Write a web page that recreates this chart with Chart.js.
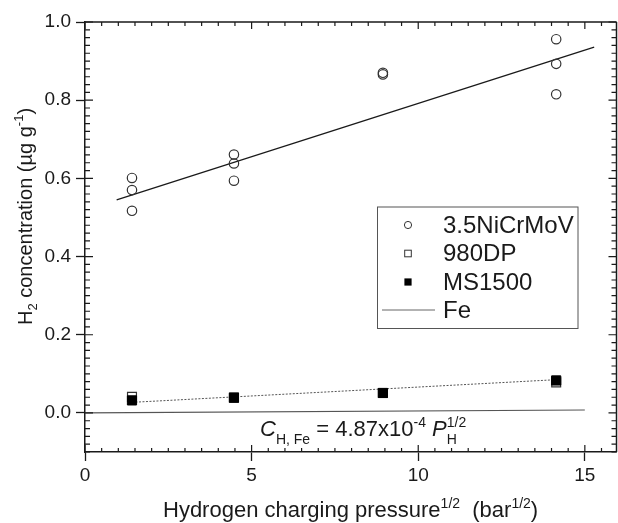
<!DOCTYPE html>
<html>
<head>
<meta charset="utf-8">
<script src="https://cdn.jsdelivr.net/npm/chart.js@4/dist/chart.umd.min.js"></script>
<style>
  html, body { margin: 0; padding: 0; background: #fff; }
  #wrap { width: 618px; height: 523px; }
</style>
</head>
<body>
<div id="wrap"><canvas id="chart" width="618" height="523"></canvas></div>
<script>
// values
const xTicks = [0, 5, 10, 15];
const yTicks = [0, 0.2, 0.4, 0.6, 0.8, 1.0];

// 3.5NiCrMoV, open circles
const niX = [1.41, 1.41, 1.41, 4.47, 4.47, 4.47, 8.94, 8.94, 14.14, 14.14, 14.14];
const niY = [0.601, 0.570, 0.517, 0.661, 0.638, 0.594, 0.866, 0.870, 0.956, 0.893, 0.815];

// 980DP (open squares) and MS1500 (filled squares)
const steelX = [1.41, 4.47, 8.94, 14.14];
const dpY = [0.041, 0.039, 0.051, 0.078];
const msY = [0.032, 0.039, 0.051, 0.083];

// fitted lines (end points)
const niFitX = [0.95, 15.28];
const niFitY = [0.545, 0.936];
const steelFitX = [1.41, 14.14];
const steelFitY = [0.027, 0.085];
const feX = [0, 15];
const feY = [0, 0.0073];

const FONT = "'Liberation Sans', Arial, sans-serif";
const INK = "#1a1a1a";

const pts = (xs, ys) => xs.map((x, i) => ({ x: x, y: ys[i] }));

// draws a run of text pieces with sub/superscripts
function richText(ctx, x, y, parts) {
  let cx = x;
  for (const p of parts) {
    ctx.font = (p.italic ? "italic " : "") + p.size + "px " + FONT;
    ctx.fillText(p.t, cx, y + (p.dy || 0));
    if (!p.stay) cx += ctx.measureText(p.t).width;
  }
  return cx;
}

const frame = {
  id: "frame",
  afterDraw(chart) {
    const { ctx, chartArea: a } = chart;
    const xs = chart.scales.x, ys = chart.scales.y;
    ctx.save();
    ctx.strokeStyle = INK;
    ctx.lineWidth = 1.5;
    ctx.beginPath();
    ctx.moveTo(a.left, a.top); ctx.lineTo(a.right, a.top);
    ctx.moveTo(a.right, a.top); ctx.lineTo(a.right, a.bottom);
    ctx.stroke();
    // inner ticks
    ctx.lineWidth = 1.2;
    ctx.beginPath();
    for (let v = 0; v <= 15.9; v += 0.5) {
      const px = xs.getPixelForValue(v);
      const major = Math.abs(v % 5) < 1e-6;
      const len = major ? 7 : 4;
      ctx.moveTo(px, a.bottom); ctx.lineTo(px, a.bottom - len);
      ctx.moveTo(px, a.top); ctx.lineTo(px, a.top + len);
    }
    for (let k = -5; k <= 50; k++) {
      const v = k * 0.02;
      const py = ys.getPixelForValue(v);
      const major = k % 10 === 0;
      const len = major ? 8 : 5;
      ctx.moveTo(a.left, py); ctx.lineTo(a.left + len, py);
      ctx.moveTo(a.right, py); ctx.lineTo(a.right - len, py);
    }
    ctx.stroke();

    // axis titles
    ctx.fillStyle = INK;
    ctx.textBaseline = "alphabetic";
    ctx.textAlign = "left";
    richText(ctx, 163, 517, [
      { t: "Hydrogen charging pressure", size: 22 },
      { t: "1/2", size: 14, dy: -9 },
      { t: "  (bar", size: 22 },
      { t: "1/2", size: 14, dy: -9 },
      { t: ")", size: 22 }
    ]);
    ctx.save();
    ctx.translate(32, 325);
    ctx.rotate(-Math.PI / 2);
    richText(ctx, 0, 0, [
      { t: "H", size: 20 },
      { t: "2", size: 13, dy: 5 },
      { t: " concentration (\u00b5g g", size: 20 },
      { t: "-1", size: 13, dy: -9 },
      { t: ")", size: 20 }
    ]);
    ctx.restore();

    // equation for Fe
    richText(ctx, 260, 436, [
      { t: "C", size: 22, italic: true },
      { t: "H, Fe", size: 14, dy: 8 },
      { t: " = 4.87x10", size: 22 },
      { t: "-4", size: 14, dy: -9 },
      { t: " ", size: 22 },
      { t: "P", size: 22, italic: true },
      { t: "1/2", size: 14, dy: -9, stay: true },
      { t: "H", size: 14, dy: 8 }
    ]);

    // legend box
    const lx = a.left + 292.5, ly = a.top + 185, lw = 200.5, lh = 121.5;
    ctx.strokeStyle = "#555";
    ctx.lineWidth = 1;
    ctx.strokeRect(lx, ly, lw, lh);
    const mx = lx + 30.5, tx = lx + 65.5;
    const rows = [ly + 18, ly + 46.5, ly + 75, ly + 103];
    ctx.strokeStyle = "#333";
    ctx.lineWidth = 1;
    ctx.beginPath(); ctx.arc(mx, rows[0], 3.6, 0, Math.PI * 2); ctx.stroke();
    ctx.strokeRect(mx - 3.3, rows[1] - 3.3, 6.6, 6.6);
    ctx.fillStyle = "#000";
    ctx.fillRect(mx - 3.6, rows[2] - 3.6, 7.2, 7.2);
    ctx.strokeStyle = "#666";
    ctx.beginPath(); ctx.moveTo(lx + 4.5, rows[3]); ctx.lineTo(lx + 57.5, rows[3]); ctx.stroke();
    ctx.fillStyle = INK;
    ctx.font = "24px " + FONT;
    ctx.textBaseline = "middle";
    ["3.5NiCrMoV", "980DP", "MS1500", "Fe"].forEach((s, i) => ctx.fillText(s, tx, rows[i] + 1));
    ctx.restore();
  }
};

new Chart(document.getElementById("chart"), {
  type: "scatter",
  data: {
    datasets: [
      {
        label: "MS1500",
        data: pts(steelX, msY),
        pointStyle: "rect",
        pointRadius: 6.5,
        backgroundColor: "#000",
        borderColor: "#000",
        borderWidth: 1
      },
      {
        label: "980DP",
        data: pts(steelX, dpY),
        pointStyle: "rect",
        pointRadius: 6.3,
        backgroundColor: "#fff",
        borderColor: "#333",
        borderWidth: 1.2
      },
      {
        label: "3.5NiCrMoV",
        data: pts(niX, niY),
        pointStyle: "circle",
        pointRadius: 4.7,
        backgroundColor: "rgba(255,255,255,0)",
        borderColor: "#333",
        borderWidth: 1.2
      },
      {
        label: "fit 3.5NiCrMoV",
        data: pts(niFitX, niFitY),
        showLine: true,
        pointRadius: 0,
        borderColor: "#1a1a1a",
        borderWidth: 1.3
      },
      {
        label: "fit steels",
        data: pts(steelFitX, steelFitY),
        showLine: true,
        pointRadius: 0,
        borderColor: "#555",
        borderWidth: 1,
        borderDash: [2, 1.5]
      },
      {
        label: "Fe",
        data: pts(feX, feY),
        showLine: true,
        pointRadius: 0,
        borderColor: "#555",
        borderWidth: 1.1
      }
    ]
  },
  options: {
    responsive: false,
    animation: false,
    devicePixelRatio: 1,
    layout: { autoPadding: false, padding: { top: 22, right: 1.5, left: 0, bottom: 0 } },
    plugins: {
      legend: { display: false },
      tooltip: { enabled: false }
    },
    scales: {
      x: {
        type: "linear",
        min: 0,
        max: 15.95,
        afterBuildTicks: (s) => { s.ticks = xTicks.map(v => ({ value: v })); },
        afterFit: (s) => { s.height = 71; },
        grid: { drawOnChartArea: false, drawTicks: true, tickLength: 9, tickColor: INK, tickWidth: 1.3 },
        border: { color: INK, width: 1.5 },
        ticks: { color: INK, font: { family: FONT, size: 19 }, padding: 3, maxRotation: 0 }
      },
      y: {
        type: "linear",
        min: -0.1,
        max: 1.0,
        afterBuildTicks: (s) => { s.ticks = yTicks.map(v => ({ value: v })); },
        afterFit: (s) => { s.width = 85; },
        grid: { drawOnChartArea: false, drawTicks: true, tickLength: 9, tickColor: INK, tickWidth: 1.3 },
        border: { color: INK, width: 1.5 },
        ticks: { color: INK, font: { family: FONT, size: 19 }, padding: 5, callback: (v) => v.toFixed(1) }
      }
    }
  },
  plugins: [frame]
});
</script>
</body>
</html>
